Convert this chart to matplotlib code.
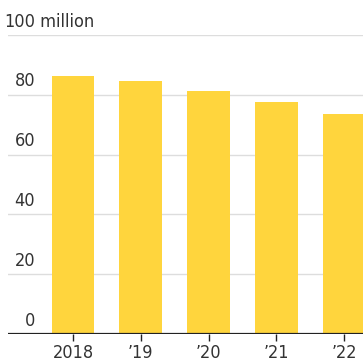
import matplotlib
matplotlib.use("Agg")
import matplotlib.pyplot as plt
import numpy as np

years = ["2018", "\u201919", "\u201920", "\u201921", "\u201922"]
values = [86.3, 84.6, 81.3, 77.6, 73.5]
yticks = [0, 20, 40, 60, 80, 100]
ytick_labels = ["0", "20", "40", "60", "80", "100"]

plt.rcParams['font.family'] = ['DejaVu Sans']
plt.rcParams['font.stretch'] = 'condensed'

fig = plt.figure(figsize=(3.63, 3.59), dpi=100)
ax = fig.add_axes([8/363, 1-334/359, 1-8/363, (334-35)/359])

x = np.arange(len(years))
ax.bar(x, values, width=0.63, color="#FFD53D", zorder=2)

ax.set_xlim(-0.96, 4.28)
ax.set_ylim(0, 100)

# gridlines
for t in yticks[1:]:
    ax.axhline(t, color="#dddddd", lw=1, zorder=1)
ax.axhline(0, color="#222222", lw=1.6, zorder=3)

# y labels sit above the gridlines
tr = ax.get_yaxis_transform()
for t, lab in zip(yticks, ytick_labels):
    ax.text(27/355, t + 1.5, lab, transform=tr, ha="right", va="bottom",
            fontsize=13, color="#333333", fontstretch="condensed")
ax.text(27/355, 101.5, " million", transform=tr, ha="left", va="bottom",
        fontsize=13, color="#333333", fontstretch="condensed")

ax.set_yticks([])
ax.set_xticks(x)
ax.set_xticklabels(years, fontsize=13, color="#333333", fontstretch="condensed")
ax.tick_params(axis="x", length=5, width=1, color="#222222", pad=2)
for s in ax.spines.values():
    s.set_visible(False)

fig.savefig("out.png", dpi=100)
